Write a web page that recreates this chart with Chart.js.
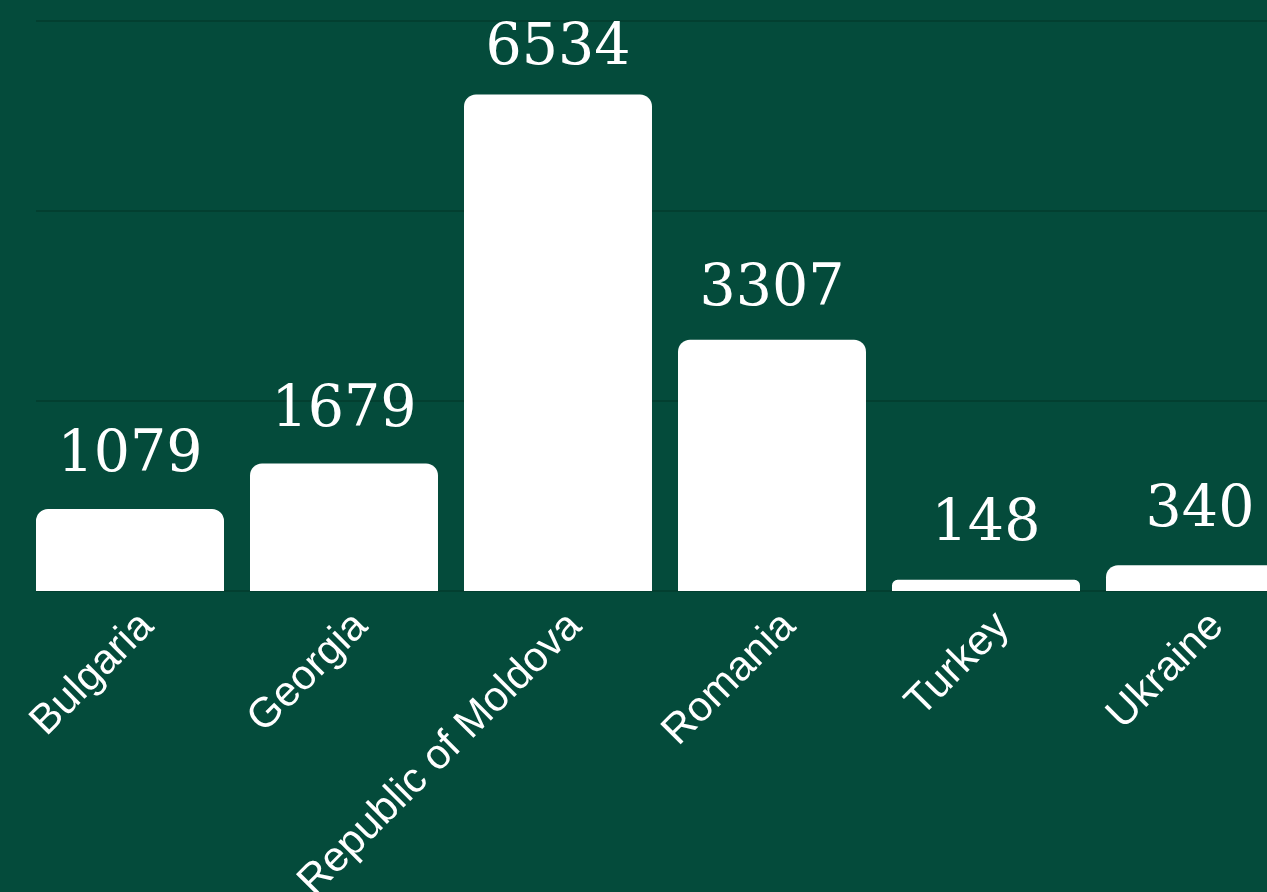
<!DOCTYPE html>
<html>
<head>
<meta charset="utf-8">
<script src="https://cdn.jsdelivr.net/npm/chart.js@4"></script>
<style>
  html, body { margin: 0; padding: 0; background: #044b3b; overflow: hidden; }
  #wrap { position: relative; width: 1320px; height: 892px; }
</style>
</head>
<body>
<div id="wrap"><canvas id="c" width="1320" height="892"></canvas></div>
<script>
// chart data
const countries = ['Bulgaria', 'Georgia', 'Republic of Moldova', 'Romania', 'Turkey', 'Ukraine'];
const counts = [1079, 1679, 6534, 3307, 148, 340];
const yTicks = [0, 2500, 5000, 7500];

const GRID = '#033f30';

// horizontal grid lines, starting at the first bar's left edge
const gridLines = {
  id: 'gridLines',
  beforeDatasetsDraw(chart) {
    const { ctx, chartArea } = chart;
    const y = chart.scales.y;
    const first = chart.getDatasetMeta(0).data[0];
    const left = first.x - first.width / 2;
    ctx.save();
    ctx.strokeStyle = GRID;
    ctx.lineWidth = 2;
    yTicks.forEach((v) => {
      const py = Math.round(y.getPixelForValue(v));
      ctx.beginPath();
      ctx.moveTo(left, py);
      ctx.lineTo(chartArea.right, py);
      ctx.stroke();
    });
    ctx.restore();
  },
};

// value labels drawn above each bar
const valueLabels = {
  id: 'valueLabels',
  afterDatasetsDraw(chart) {
    const { ctx } = chart;
    const meta = chart.getDatasetMeta(0);
    const base = chart.scales.y.getPixelForValue(0);
    ctx.save();
    ctx.fillStyle = '#ffffff';
    ctx.font = '57px "DejaVu Serif"';
    ctx.textAlign = 'center';
    ctx.textBaseline = 'alphabetic';
    meta.data.forEach((bar, i) => {
      const gap = 40 - 0.02 * (base - bar.y);
      ctx.fillText(String(counts[i]), bar.x, bar.y - gap);
    });
    ctx.restore();
  },
};

new Chart(document.getElementById('c'), {
  type: 'bar',
  data: {
    labels: countries,
    datasets: [{
      data: counts,
      backgroundColor: '#ffffff',
      borderWidth: 0,
      borderRadius: 12,
      borderSkipped: 'bottom',
      categoryPercentage: 1,
      barPercentage: 0.8785,
    }],
  },
  options: {
    responsive: false,
    animation: false,
    layout: { padding: { left: 23, right: 13, top: 21, bottom: 0 } },
    plugins: {
      legend: { display: false },
      tooltip: { enabled: false },
    },
    scales: {
      x: {
        grid: { display: false },
        border: { display: false },
        ticks: {
          color: '#ffffff',
          font: { family: '"Liberation Sans", Arial, sans-serif', size: 42 },
          minRotation: 45,
          maxRotation: 45,
          autoSkip: false,
          labelOffset: 17,
        },
        afterFit(scale) { scale.height = 301; },
      },
      y: {
        min: 0,
        max: 7500,
        afterBuildTicks(scale) { scale.ticks = yTicks.map((v) => ({ value: v })); },
        ticks: { display: false },
        border: { display: false },
        grid: { display: false },
        afterFit(scale) { scale.width = 0; },
      },
    },
  },
  plugins: [gridLines, valueLabels],
});
</script>
</body>
</html>
